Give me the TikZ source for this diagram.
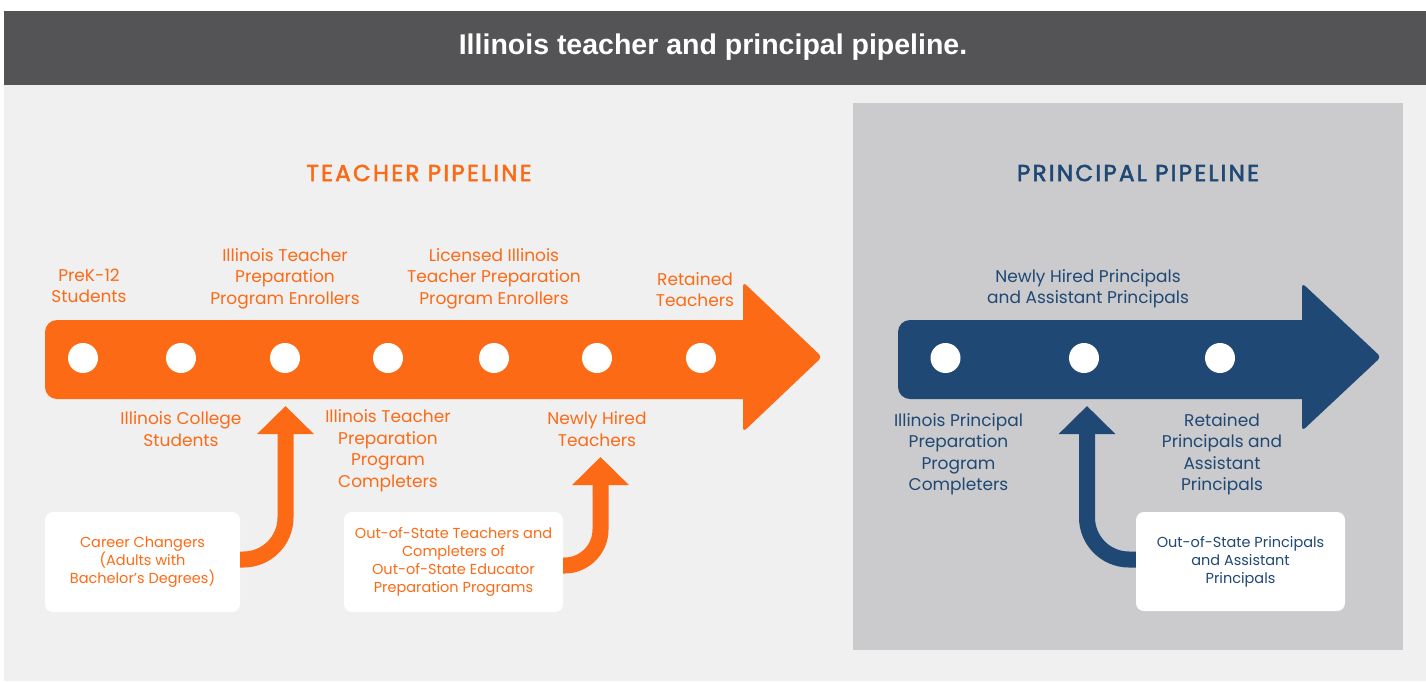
\documentclass[tikz,border=0pt]{standalone}
\usepackage{fontspec}
\setmainfont{Poppins}
\newfontfamily\hdfont{Liberation Sans}
\newfontfamily\ttlfont[FakeBold=2.5, LetterSpace=10]{Poppins}
\usetikzlibrary{arrows.meta}

\definecolor{hdgray}{RGB}{84,84,86}
\definecolor{pagebg}{RGB}{240,240,240}
\definecolor{panelgray}{RGB}{203,203,205}
\definecolor{torange}{RGB}{253,106,22}
\definecolor{pblue}{RGB}{31,72,116}

\tikzset{
  dot/.style={circle, fill=white, draw=none, minimum size=30pt, inner sep=0pt},
  lbl/.style={align=center, inner sep=0pt, font=\fontsize{17}{21.5}\selectfont},
  ttl/.style={inner sep=0pt, font=\ttlfont\fontsize{23}{26}\selectfont},
  srcbox/.style={fill=white, rounded corners=8pt, inner sep=0pt, align=center,
    minimum height=100pt, font=\fontsize{14.5}{18}\selectfont},
  feed/.style={line width=16pt, rounded corners=#1,
    -{Triangle[width=55pt,length=28pt]}},
}

\begin{document}
\begin{tikzpicture}[x=1pt,y=-1pt]
  \useasboundingbox (0,0) rectangle (1426,681);
  \fill[white] (0,0) rectangle (1426,681);
  % page background and header band
  \fill[pagebg] (4,85) rectangle (1426,681);
  \fill[hdgray] (4,11) rectangle (1426,85);
  \node[text=white, font=\hdfont\fontsize{28.5}{32}\selectfont\bfseries] (title) at (713,47)
    {Illinois teacher and principal pipeline.};

  % principal panel
  \fill[panelgray] (853,103) rectangle (1403,650);

  % ---------- teacher pipeline ----------
  \node[ttl, text=torange] (tpl) at (419,173) {TEACHER PIPELINE};
  \fill[torange, rounded corners=12pt] (770,320) -- (45,320) -- (45,399) -- (770,399) -- cycle;
  \fill[torange, rounded corners=4pt] (743,282) -- (822,357) -- (743,432) -- cycle;

  \node[dot] (t1) at (83,358) {};
  \node[dot] (t2) at (181,358) {};
  \node[dot] (t3) at (285,358) {};
  \node[dot] (t4) at (388,358) {};
  \node[dot] (t5) at (494,358) {};
  \node[dot] (t6) at (597,358) {};
  \node[dot] (t7) at (701,358) {};

  \begin{scope}[every node/.style={lbl, text=torange}]
    \node (l1) at (89,286) {PreK-12\\Students};
    \node (l3) at (285,278.5) {Illinois Teacher\\Preparation\\Program Enrollers};
    \node (l5) at (494,278.5) {Licensed Illinois\\Teacher Preparation\\Program Enrollers};
    \node (l7) at (695,289.5) {Retained\\Teachers};
    \node (l2) at (181,429) {Illinois College\\Students};
    \node (l4) at (388,450.5) {Illinois Teacher\\Preparation\\Program\\Completers};
    \node (l6) at (597,429) {Newly Hired\\Teachers};
  \end{scope}

  \node[srcbox, text=torange, minimum width=195pt] (cc) at (142.5,562)
    {Career Changers\\(Adults with\\Bachelor’s Degrees)};
  \node[srcbox, text=torange, minimum width=219pt] (os) at (453.5,562)
    {Out-of-State Teachers and\\Completers of\\Out-of-State Educator\\Preparation Programs};

  \coordinate (in3) at (285.5,406);
  \coordinate (in6) at (600.5,457);
  \draw[feed=42pt, torange] ([yshift=2.5pt]cc.east) -| (in3);
  \draw[feed=36pt, torange] ([yshift=-3.5pt]os.east) -| (in6);

  % ---------- principal pipeline ----------
  \node[ttl, text=pblue] (ppl) at (1138,173) {PRINCIPAL PIPELINE};
  \fill[pblue, rounded corners=12pt] (1330,320) -- (898,320) -- (898,399) -- (1330,399) -- cycle;
  \fill[pblue, rounded corners=4pt] (1302,283) -- (1381,357) -- (1302,431) -- cycle;

  \node[dot] (p1) at (945.5,358) {};
  \node[dot] (p2) at (1084,358) {};
  \node[dot] (p3) at (1220,358) {};

  \begin{scope}[every node/.style={lbl, text=pblue}]
    \node (m2) at (1088,288.5) {Newly Hired Principals\\and Assistant Principals};
    \node (m1) at (958.5,454) {Illinois Principal\\Preparation\\Program\\Completers};
    \node (m3) at (1222,454) {Retained\\Principals and\\Assistant\\Principals};
  \end{scope}

  \node[srcbox, text=pblue, minimum width=209pt, minimum height=99pt] (ps) at (1240.5,561.5)
    {Out-of-State Principals\\and Assistant\\Principals};

  \coordinate (in8) at (1087,406);
  \draw[feed=42pt, pblue] ([yshift=2pt]ps.west) -| (in8);
\end{tikzpicture}
\end{document}
